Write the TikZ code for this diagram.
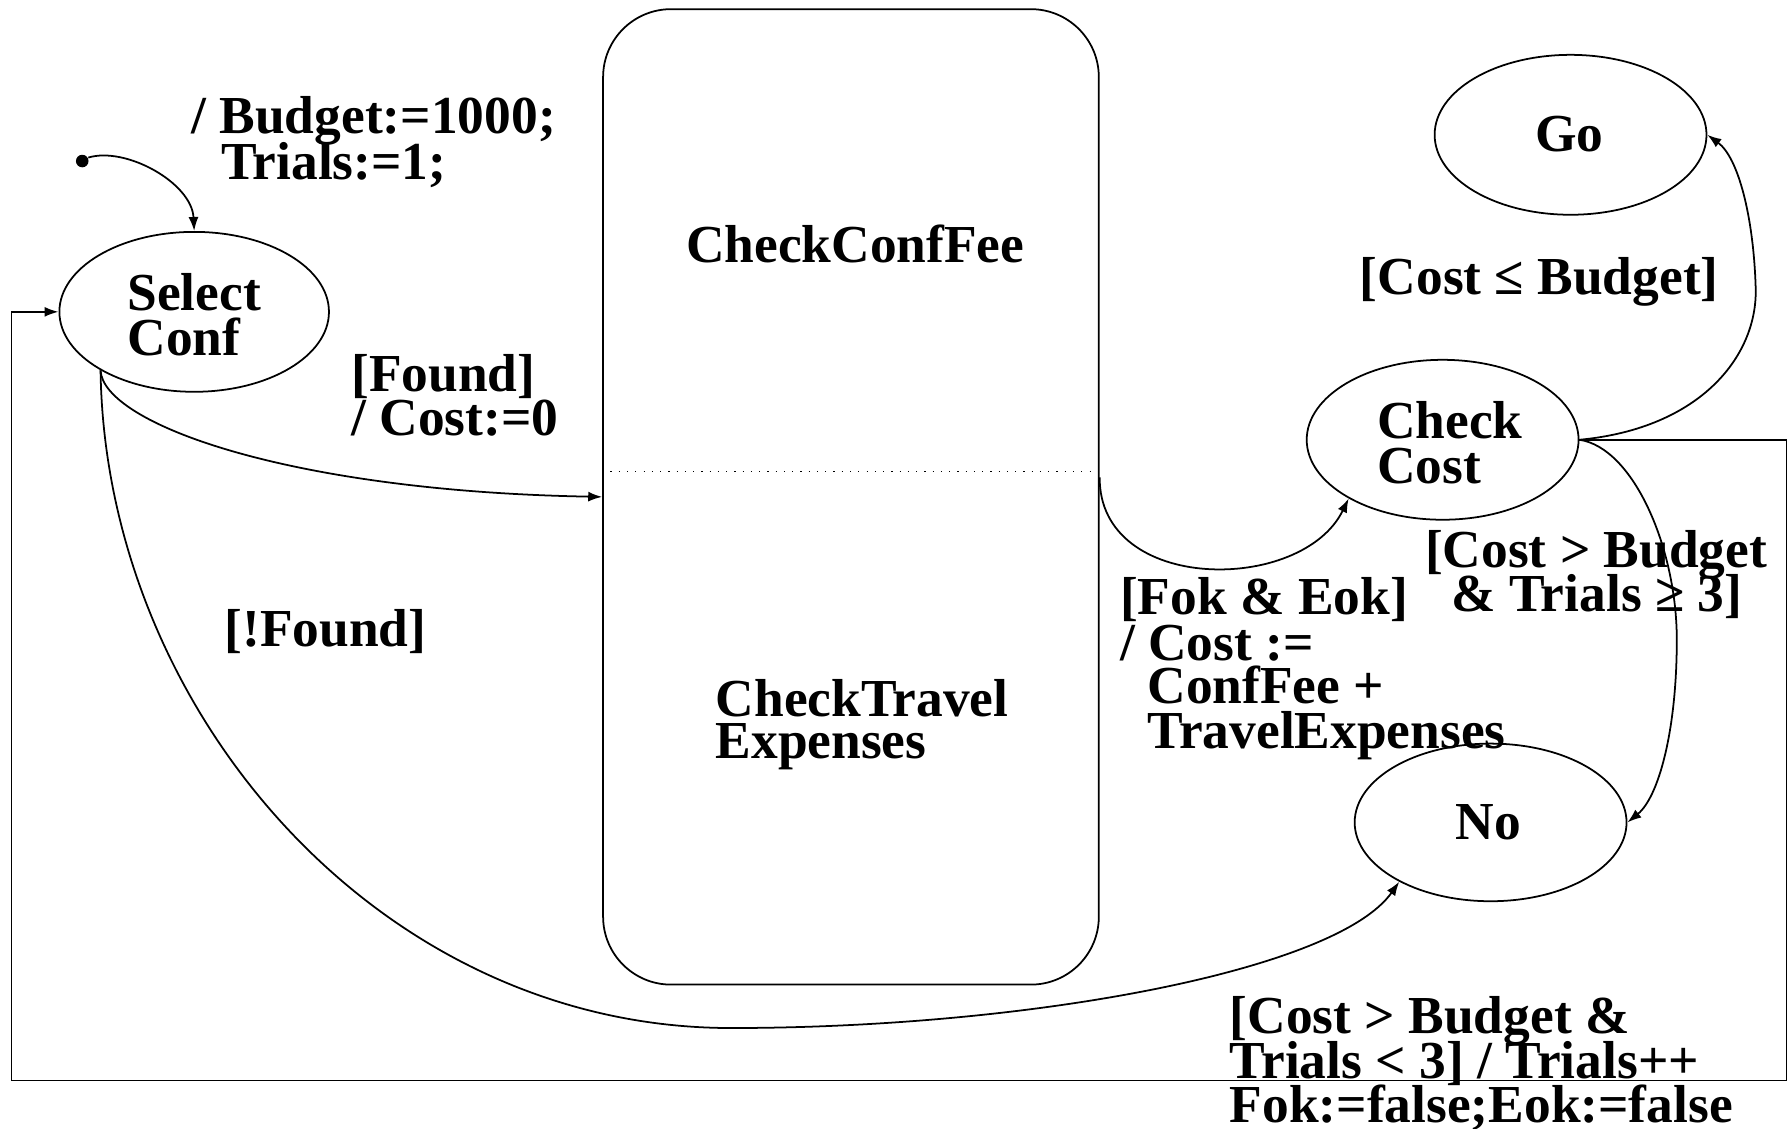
\documentclass[tikz,border=0pt]{standalone}
\usepackage{fontspec}
\newfontfamily\timesb{Liberation Serif}
\usetikzlibrary{shapes.geometric,arrows.meta,calc}
\def\U{0.11422mm}
\tikzset{
  lbl/.style={font=\timesb\bfseries\fontsize{15.2pt}{12.8pt}\selectfont, anchor=base west, inner sep=0pt},
  ctr/.style={lbl, anchor=base},
  state/.style={ellipse, draw, line width=0.5pt, inner sep=0pt, minimum width={238*\U}, minimum height={140*\U}},
  trans/.style={-{Latex[length=1.4mm,width=1.0mm]}, line width=0.5pt},
}
\begin{document}
\begin{tikzpicture}[x=\U,y=-\U]
\useasboundingbox (0,0) rectangle (1568,988);

% initial pseudo-state
\node[circle, fill, inner sep=0pt, minimum size={11*\U}] (init) at (72,141) {};
\node[lbl] (bud1) at (167,117) {/ Budget:=1000;};
\node[lbl] (bud2) at (193,157) {Trials:=1;};

% states
\node[state, minimum width={236*\U}] (sel) at (170,273) {};
\node[lbl] (selA) at (111,272) {Select};
\node[lbl] (selB) at (111,311) {Conf};

\node[state] (go) at (1375,118) {};
\node[ctr] (goT) at (1374,133) {Go};

\node[state] (cc) at (1263,385) {};
\node[lbl] (ccA) at (1205,384) {Check};
\node[lbl] (ccB) at (1205,423) {Cost};

\node[state, minimum height={138*\U}] (no) at (1305,720) {};
\node[ctr] (noT) at (1303,735) {No};

% concurrent composite state with its two regions
\node[draw, line width=0.5pt, rounded corners=6.8mm, inner sep=0pt,
      minimum width={434*\U}, minimum height={854*\U}] (comp) at (745,435) {};
\coordinate (divy) at (745,413);
\draw[dotted, line width=0.35pt] (comp.west |- divy) -- (comp.east |- divy);
\node[lbl] (fee) at (600,230) {CheckConfFee};
\node[lbl] (trA) at (626,627) {CheckTravel};
\node[lbl] (trB) at (626,664) {Expenses};

% transitions
\draw[trans] (init.30) .. controls (110,128) and (168,160) .. (sel.north);

\draw[trans] (sel.212) .. controls (90,370) and (250,430) .. (comp.west);
\node[lbl] (fndA) at (307,343) {[Found]};
\node[lbl] (fndB) at (307,381) {/ Cost:=0};

\draw[trans] (sel.212) .. controls (92,620) and (330,900) .. (640,900)
  .. controls (900,900) and (1170,850) .. (no.213);
\node[lbl] (nf) at (196,566) {[!Found]};

\draw[trans] ($(comp.east)+(0,-17)$) .. controls (962,520) and (1140,520) .. (cc.212);
\node[lbl] (okA) at (980,538) {[Fok \& Eok]};
\node[lbl] (okB) at (980,578) {/ Cost :=};
\node[lbl] (okC) at (1004,616) {ConfFee +};
\node[lbl] (okD) at (1004,655) {TravelExpenses};

\draw[trans] (cc.east) .. controls (1490,375) and (1540,310) .. (1537,250)
  .. controls (1535,190) and (1522,138) .. (go.east);
\node[lbl] (le) at (1190,258) {[Cost ≤ Budget]};

\draw[trans] (cc.east) .. controls (1430,392) and (1468,480) .. (1468,560)
  .. controls (1468,640) and (1452,698) .. (no.east);
\node[lbl] (geA) at (1247,497) {[Cost > Budget};
\node[lbl] (geB) at (1270,535) {\& Trials ≥ 3]};

\coordinate (lr) at (1564,946);
\coordinate (ll) at (10,946);
\draw[trans] (cc.east) -| (lr) -- (ll) |- (sel.west);
\node[lbl] (ltA) at (1076,905) {[Cost > Budget \&};
\node[lbl] (ltB) at (1076,944) {Trials < 3] / Trials++};
\node[lbl] (ltC) at (1076,983) {Fok:=false;Eok:=false};
\end{tikzpicture}
\end{document}
